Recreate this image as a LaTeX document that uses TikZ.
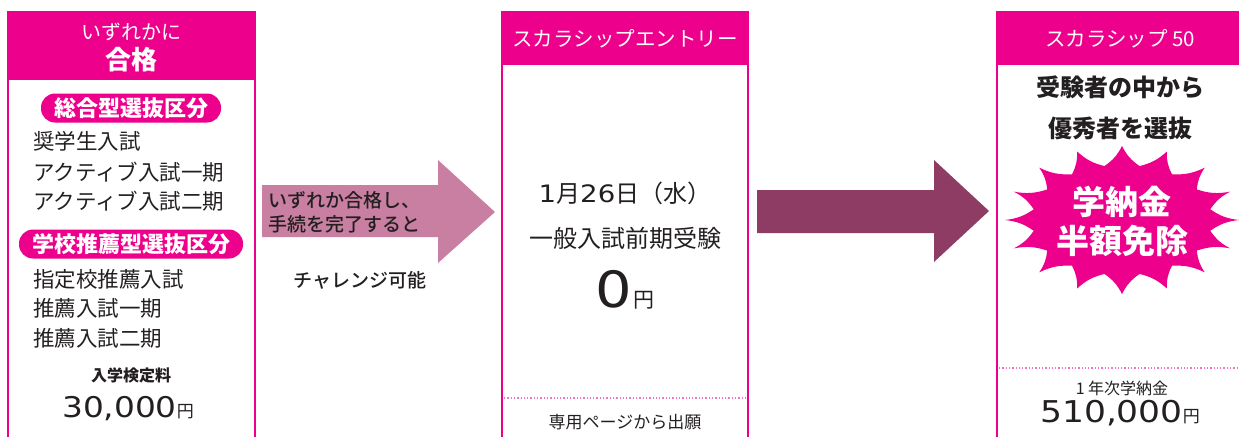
\documentclass[tikz,border=0pt]{standalone}
\usepackage{fontspec}
\setmainfont{Noto Sans CJK JP}
\newfontfamily\medfont{Noto Sans CJK JP Medium}
\newfontfamily\numfont[FakeStretch=1.15]{DejaVu Sans}
\definecolor{mag}{HTML}{EC008C}
\definecolor{arrA}{HTML}{C97FA1}
\definecolor{arrB}{HTML}{8E3C63}
\definecolor{ink}{HTML}{231F20}
\tikzset{
  panelline/.style={draw=mag, line width=1.5pt},
  headtext/.style={text=white, inner sep=0pt},
  body/.style={text=ink, inner sep=0pt},
  item/.style={body, anchor=west, font=\fontsize{21.5}{23}\selectfont},
  pill/.style={fill=mag, rounded corners=14pt, text=white, font=\fontsize{22}{24}\selectfont\bfseries, inner xsep=13pt, inner ysep=3pt, minimum height=29pt},
  dotline/.style={draw=mag!55, dotted, line width=1.3pt},
}
\begin{document}
\begin{tikzpicture}[x=1pt,y=-1pt]
\useasboundingbox (0,0) rectangle (1239,437);
% panel 1
\fill[mag] (8,12) rectangle (255,80);
\draw[panelline] (8,437) -- (8,12) -- (255,12) -- (255,437);
\node[headtext, font=\fontsize{20}{22}\selectfont] (p1a) at (131.5,32) {いずれかに};
\node[headtext, font=\fontsize{26}{28}\selectfont\bfseries] (p1b) at (131.5,60) {合格};
\node[pill] (pillA) at (131,108) {総合型選抜区分};
\node[item] (i1) at (33,141) {奨学生入試};
\node[item] (i2) at (33,172) {アクティブ入試一期};
\node[item] (i3) at (33,201) {アクティブ入試二期};
\node[pill] (pillB) at (131,244) {学校推薦型選抜区分};
\node[item] (i4) at (33,279) {指定校推薦入試};
\node[item] (i5) at (33,308) {推薦入試一期};
\node[item] (i6) at (33,338) {推薦入試二期};
\node[body, font=\fontsize{16}{18}\selectfont\bfseries] (fee1) at (131,375) {入学検定料};
\node[body] (fee1v) at (128,409) {{\numfont\fontsize{28.5}{30}\selectfont 30,000}{\fontsize{17}{18}\selectfont 円}};
% arrow 1
\fill[arrA] (262,185) -- (438,185) -- (438,160) -- (495,212) -- (438,263) -- (438,237) -- (262,237) -- cycle;
\node[body, anchor=west, align=left, font=\fontsize{19}{24}\medfont] (a1t) at (268,212) {いずれか合格し、\\手続を完了すると};
\node[body, font=\fontsize{19}{20}\medfont] (a1b) at (360,280) {チャレンジ可能};
% panel 2
\fill[mag] (502,12) rectangle (748,65);
\draw[panelline] (502,437) -- (502,12) -- (748,12) -- (748,437);
\node[headtext, font=\fontsize{20.5}{22}\selectfont] (p2h) at (625,39) {スカラシップエントリー};
\node[body, font=\fontsize{24}{25}\selectfont] (p2a) at (625,193) {{\numfont 1}月{\numfont 26}日（水）};
\node[body, font=\fontsize{24}{25}\selectfont] (p2b) at (625,238) {一般入試前期受験};
\node[body] (p2c) at (625,290) {{\numfont\fontsize{50}{52}\selectfont 0}\,{\fontsize{21}{22}\selectfont 円}};
\draw[dotline] (504,398) -- (746,398);
\node[body, font=\fontsize{17}{18}\selectfont] (p2d) at (625,422) {専用ページから出願};
% arrow 2
\fill[arrB] (757,190) -- (934,190) -- (934,160) -- (989,211) -- (934,262) -- (934,233) -- (757,233) -- cycle;
% panel 3
\fill[mag] (997,12) rectangle (1240,65);
\draw[panelline] (997,437) -- (997,12) -- (1240,12);
\node[headtext, font=\fontsize{20.5}{22}\selectfont] (p3h) at (1120,39) {スカラシップ 50};
\node[body, font=\fontsize{24}{25}\selectfont\bfseries] (p3a) at (1120,87) {受験者の中から};
\node[body, font=\fontsize{24}{25}\selectfont\bfseries] (p3b) at (1120,128) {優秀者を選抜};
\begin{scope}[shift={(1122,220)}]
\fill[mag] (0:117 and 74) \foreach \i in {1,...,16} { to[bend right=14] ({\i*22.5-11.25}:90 and 55) to[bend right=14] ({\i*22.5}:117 and 74) } -- cycle;
\end{scope}
\node[headtext, font=\fontsize{33}{36}\selectfont\bfseries] (s1) at (1122,202) {学納金};
\node[headtext, font=\fontsize{33}{36}\selectfont\bfseries] (s2) at (1122,241) {半額免除};
\draw[dotline] (999,368) -- (1239,368);
\node[body, font=\fontsize{16}{17}\selectfont] (p3c) at (1122,388) {1 年次学納金};
\node[body] (p3d) at (1120,413) {{\numfont\fontsize{30}{32}\selectfont 510,000}{\fontsize{17}{18}\selectfont 円}};
\end{tikzpicture}
\end{document}
